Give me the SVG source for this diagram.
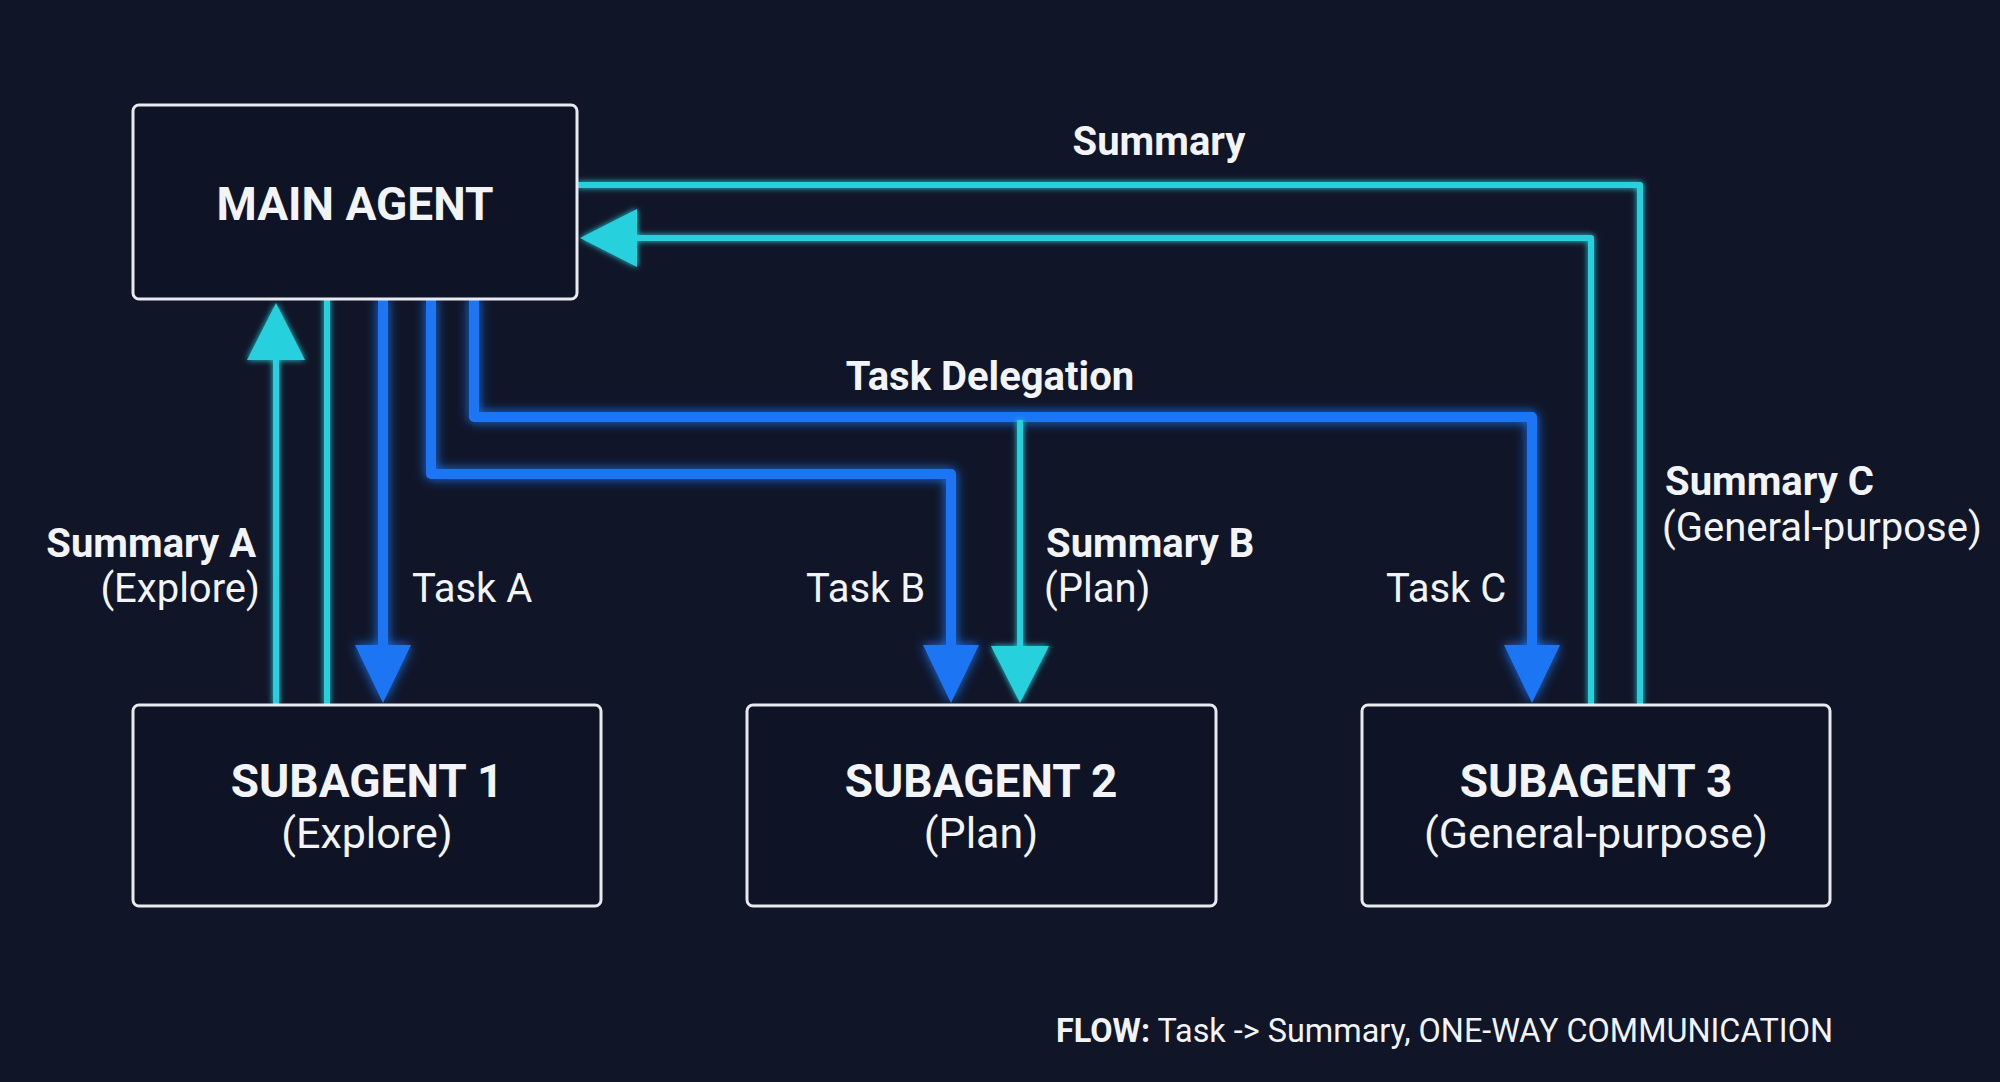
<svg xmlns="http://www.w3.org/2000/svg" width="2000" height="1082" viewBox="0 0 2000 1082">
<defs>
<style>
.node rect{fill:#0f1326;stroke:#e8eaf0;stroke-width:3}
.t{font-family:Roboto,"Liberation Sans",sans-serif;fill:#f2f4f8}
.title{font-weight:700;font-size:46px;text-anchor:middle}
.sub{font-weight:400;font-size:43px;text-anchor:middle}
.lb{font-weight:700;font-size:40px}
.lr{font-weight:400;font-size:40px}
.cyan{fill:none;stroke:#27d0dc;stroke-width:6;stroke-linejoin:round}
.blue{fill:none;stroke:#1f75f2;stroke-width:10;stroke-linejoin:round}
</style>
<marker id="ahB" viewBox="0 0 58 56" refX="18" refY="28" markerWidth="58" markerHeight="56" markerUnits="userSpaceOnUse" orient="auto">
<path d="M0,0 L58,28 L0,56 z" fill="#1f75f2"/>
</marker>
<marker id="ahC" viewBox="0 0 57 58" refX="17" refY="29" markerWidth="57" markerHeight="58" markerUnits="userSpaceOnUse" orient="auto">
<path d="M0,0 L57,29 L0,58 z" fill="#27d0dc"/>
</marker>
<filter id="glow" filterUnits="userSpaceOnUse" x="0" y="0" width="2000" height="1082">
<feGaussianBlur in="SourceGraphic" stdDeviation="6" result="b"/>
<feMerge><feMergeNode in="b"/><feMergeNode in="SourceGraphic"/></feMerge>
</filter>
<filter id="glowS" filterUnits="userSpaceOnUse" x="0" y="0" width="2000" height="1082">
<feGaussianBlur in="SourceGraphic" stdDeviation="3" result="b"/>
<feMerge><feMergeNode in="b"/><feMergeNode in="SourceGraphic"/></feMerge>
</filter>
</defs>
<rect width="2000" height="1082" fill="#111528"/>

<g id="connectors">
<g filter="url(#glowS)">
<path class="cyan" d="M276,705 V343" marker-end="url(#ahC)"/>
<path class="cyan" d="M327,298 V705"/>
<path class="cyan" d="M577,185 H1640 V705"/>
<path class="cyan" d="M1591,705 V238 H620" marker-end="url(#ahC)"/>
</g>
<g filter="url(#glow)">
<path class="blue" d="M383,298 V663" marker-end="url(#ahB)"/>
<path class="blue" d="M431,298 V474 H951 V663" marker-end="url(#ahB)"/>
<path class="blue" d="M474,298 V417 H1532 V663" marker-end="url(#ahB)"/>
</g>
<g filter="url(#glowS)">
<path class="cyan" d="M1020,420 V663" marker-end="url(#ahC)"/>
</g>
<text class="t lb" x="1159" y="155" text-anchor="middle">Summary</text>
<text class="t lb" x="990" y="390" text-anchor="middle">Task Delegation</text>
<text class="t lb" x="256" y="557" text-anchor="end">Summary A</text>
<text class="t lr" x="260" y="602" text-anchor="end">(Explore)</text>
<text class="t lr" x="412" y="602">Task A</text>
<text class="t lr" x="806" y="602">Task B</text>
<text class="t lb" x="1046" y="557">Summary B</text>
<text class="t lr" x="1044" y="602">(Plan)</text>
<text class="t lr" x="1386" y="602">Task C</text>
<text class="t lb" x="1665" y="495">Summary C</text>
<text class="t lr" x="1662" y="541">(General-purpose)</text>
</g>

<g id="main-agent" class="node">
<rect x="133" y="105" width="444" height="194" rx="6"/>
<text class="t title" x="355" y="220">MAIN AGENT</text>
</g>
<g id="subagent-1" class="node">
<rect x="133" y="705" width="468" height="201" rx="6"/>
<text class="t title" x="367" y="797">SUBAGENT 1</text>
<text class="t sub" x="367" y="848">(Explore)</text>
</g>
<g id="subagent-2" class="node">
<rect x="747" y="705" width="469" height="201" rx="6"/>
<text class="t title" x="981" y="797">SUBAGENT 2</text>
<text class="t sub" x="981" y="848">(Plan)</text>
</g>
<g id="subagent-3" class="node">
<rect x="1362" y="705" width="468" height="201" rx="6"/>
<text class="t title" x="1596" y="797">SUBAGENT 3</text>
<text class="t sub" x="1596" y="848">(General-purpose)</text>
</g>

<text class="t" x="1056" y="1042" style="font-size:32.4px"><tspan font-weight="700">FLOW:</tspan> Task -&gt; Summary, ONE-WAY COMMUNICATION</text>
</svg>
